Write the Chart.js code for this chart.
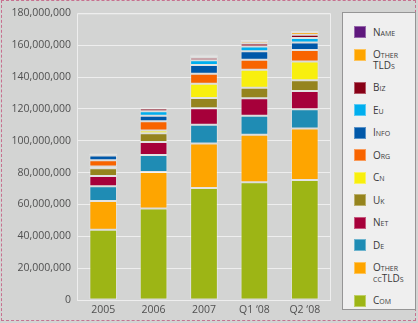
<!DOCTYPE html>
<html>
<head>
<meta charset="utf-8">
<script src="https://cdn.jsdelivr.net/npm/chart.js@4.4.0/dist/chart.umd.min.js"></script>
<style>
  html, body { margin: 0; padding: 0; }
  body {
    width: 418px; height: 323px; position: relative; overflow: hidden;
    background: #d3d4d3; font-family: "Open Sans", sans-serif;
  }
  #frame {
    position: absolute; left: 1px; top: 0; width: 413px; height: 319px;
    border: 1px dashed #c7708f;
  }
  #chart { position: absolute; left: 0; top: 0; }
  #legend {
    position: absolute; left: 342px; top: 12px; width: 74px; height: 298px;
    box-sizing: border-box; border: 1px solid #959595; background: #efefef;
    padding: 13px 0 0 11px;
  }
  .item { display: flex; align-items: flex-start; margin-bottom: 10.5px; }
  .sw { width: 12px; height: 12px; flex: none; margin-right: 7px; box-sizing: border-box; border: 1px solid rgba(255,255,255,0.35); }
  .lab {
    width: 42px; font-size: 10px; line-height: 11px; margin-top: 0.5px;
    font-variant: small-caps; color: #3a3a3a;
  }
</style>
</head>
<body>
<div id="frame"></div>
<canvas id="chart" width="418" height="323"></canvas>
<div id="legend"></div>
<script>
// Data
const periods = ['2005', '2006', '2007', 'Q1 \u201808', 'Q2 \u201808'];

const com        = [44100000, 57400000, 70300000, 73900000, 75300000];
const otherCc    = [18000000, 23000000, 27900000, 29800000, 32300000];
const de         = [9300000, 10700000, 11800000, 12000000, 12200000];
const net        = [6500000, 8100000, 10400000, 11000000, 11400000];
const uk         = [4800000, 5500000, 6400000, 6600000, 6800000];
const cn         = [1100000, 1700000, 8900000, 11200000, 11800000];
const org        = [3900000, 5900000, 6400000, 6400000, 7100000];
const info       = [3000000, 3300000, 5400000, 5200000, 4700000];
const eu         = [0, 2900000, 3000000, 3100000, 2900000];
const biz        = [1000000, 1700000, 1600000, 1900000, 2000000];
const otherTlds  = [300000, 500000, 1200000, 1400000, 1700000];
const name       = [200000, 300000, 800000, 900000, 800000];

const yTicks = { min: 0, max: 180000000, step: 20000000 };

// Series, bottom of the stack first
const series = [
    { label: 'Com',          data: com,       color: '#9db515' },
    { label: 'Other ccTLDs', data: otherCc,   color: '#fea500' },
    { label: 'De',           data: de,        color: '#1f8cb4' },
    { label: 'Net',          data: net,       color: '#a6003a' },
    { label: 'Uk',           data: uk,        color: '#95841e' },
    { label: 'Cn',           data: cn,        color: '#f8ef0e' },
    { label: 'Org',          data: org,       color: '#f86400' },
    { label: 'Info',         data: info,      color: '#0058a9' },
    { label: 'Eu',           data: eu,        color: '#00aeee' },
    { label: 'Biz',          data: biz,       color: '#870016' },
    { label: 'Other TLDs',   data: otherTlds, color: '#fea500' },
    { label: 'Name',         data: name,      color: '#5f187d' }
];

const tickFont = { family: 'Open Sans', size: 10.5 };
const tickColor = '#505050';

// Light frame around the plot area
const plotFrame = {
    id: 'plotFrame',
    beforeDatasetsDraw(chart) {
        const { ctx, chartArea: a } = chart;
        ctx.save();
        ctx.strokeStyle = '#eeeeee';
        ctx.lineWidth = 1;
        ctx.strokeRect(a.left - 0.5, a.top + 0.5, a.right - a.left + 1, a.bottom - a.top);
        ctx.restore();
    }
};

const chart = new Chart(document.getElementById('chart').getContext('2d'), {
    type: 'bar',
    data: {
        labels: periods,
        datasets: series.map(s => ({
            label: s.label,
            data: s.data,
            backgroundColor: s.color,
            borderColor: 'rgba(255,255,255,0.35)',
            borderWidth: 1,
            borderSkipped: false,
            categoryPercentage: 1,
            barPercentage: 0.55
        }))
    },
    options: {
        responsive: false,
        animation: false,
        layout: { padding: { left: 0, right: 88, top: 10, bottom: 0 } },
        plugins: {
            legend: { display: false },
            tooltip: { enabled: false }
        },
        scales: {
            x: {
                stacked: true,
                grid: { display: false, drawTicks: false },
                border: { display: false },
                ticks: { color: tickColor, font: tickFont, padding: 4 },
                afterFit: s => { s.height = 23; }
            },
            y: {
                stacked: true,
                min: yTicks.min,
                max: yTicks.max,
                grid: { color: '#eeeeee', drawTicks: false },
                border: { display: false },
                ticks: {
                    stepSize: yTicks.step,
                    color: tickColor,
                    font: tickFont,
                    padding: 7,
                    callback: v => v.toLocaleString('en-US')
                },
                afterFit: s => { s.width = 78; }
            }
        }
    },
    plugins: [plotFrame]
});

// HTML legend, top of the stack first
const legend = document.getElementById('legend');
chart.data.datasets.slice().reverse().forEach(ds => {
    const item = document.createElement('div');
    item.className = 'item';
    const sw = document.createElement('div');
    sw.className = 'sw';
    sw.style.background = ds.backgroundColor;
    const lab = document.createElement('div');
    lab.className = 'lab';
    lab.textContent = ds.label;
    item.appendChild(sw);
    item.appendChild(lab);
    legend.appendChild(item);
});
</script>
</body>
</html>
